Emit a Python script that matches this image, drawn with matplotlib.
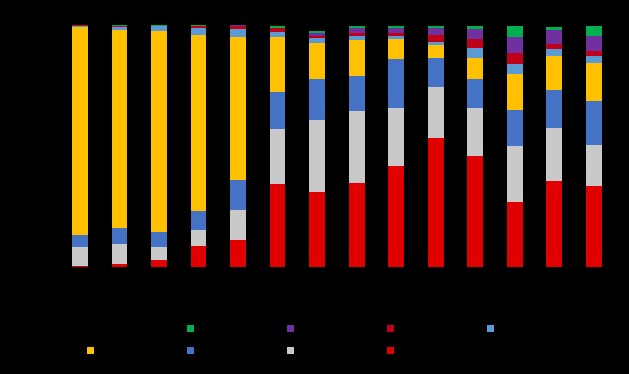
import matplotlib
matplotlib.use("Agg")
import matplotlib.pyplot as plt
from matplotlib.patches import Patch
import numpy as np

categories = ["1", "2", "3", "4", "5", "6", "7", "8", "9", "10", "11", "12", "13", "14"]

series_names = ["Series 1", "Series 2", "Series 3", "Series 4", "Series 5",
                "Series 6", "Series 7", "Series 8"]
series_colors = ["#E00000", "#C9C9C9", "#4472C4", "#FFC000", "#5B9BD5",
                 "#C00018", "#7030A0", "#00B050"]

s_red       = [0.4, 1.2, 3.0, 8.7, 11.2, 34.3, 31.0, 34.7, 41.7, 53.3, 45.9, 26.9, 35.5, 33.5]
s_gray      = [7.9, 8.3, 5.2, 6.6, 12.4, 22.7, 29.8, 29.8, 24.0, 21.1, 19.8, 23.1, 21.9, 16.9]
s_blue      = [5.0, 6.6, 6.2, 7.9, 12.4, 15.3, 16.9, 14.5, 20.2, 12.0, 12.0, 14.9, 15.7, 18.2]
s_yellow    = [85.9, 81.9, 83.1, 72.7, 59.1, 22.7, 14.9, 14.9, 8.3, 5.4, 8.7, 14.9, 14.0, 15.7]
s_lightblue = [0.4, 1.1, 2.1, 2.9, 3.3, 2.1, 2.1, 1.7, 1.2, 1.2, 4.1, 4.1, 2.9, 2.9]
s_darkred   = [0.3, 0.4, 0.0, 0.8, 1.2, 1.7, 0.8, 1.2, 1.2, 2.9, 3.7, 4.5, 2.1, 2.1]
s_purple    = [0.3, 0.0, 0.0, 0.0, 0.4, 0.0, 1.2, 2.1, 2.1, 2.9, 4.1, 6.6, 5.8, 6.2]
s_green     = [0.0, 0.4, 0.4, 0.4, 0.0, 0.8, 0.8, 0.8, 0.8, 0.8, 1.2, 4.5, 1.2, 4.1]

series = [s_red, s_gray, s_blue, s_yellow, s_lightblue, s_darkred, s_purple, s_green]

fig = plt.figure(figsize=(6.29, 3.74), dpi=100, facecolor="black")
ax = fig.add_axes([60.3 / 629, 107 / 374, (613.4 - 60.3) / 629, 242 / 374])
ax.set_facecolor("black")

x = np.arange(len(categories))
bottom = np.zeros(len(categories))
bars = []
for vals, name, col in zip(series, series_names, series_colors):
    b = ax.bar(x, vals, width=0.4, bottom=bottom, color=col, label=name, linewidth=0)
    bars.append(b)
    bottom += np.array(vals)

ax.set_xlim(-0.5, len(categories) - 0.5)
ax.set_ylim(0, 100)
ax.set_xticks(x)
ax.set_xticklabels(categories, color="black")
ax.tick_params(axis="both", colors="black", length=0)
ax.set_yticks([])
for sp in ax.spines.values():
    sp.set_visible(False)

other = Patch(facecolor="black", edgecolor="none", label="Series 9")
# arrange so rows read: [other, green, purple, darkred, lightblue] / [yellow, blue, gray, red]
handles = [other, bars[3], bars[7], bars[2], bars[6], bars[1], bars[5], bars[0], bars[4]]
labels = ["Series 9", series_names[3], series_names[7], series_names[2], series_names[6],
          series_names[1], series_names[5], series_names[0], series_names[4]]
leg = fig.legend(handles, labels, ncol=5, loc="upper left",
                 bbox_to_anchor=(87 / 629, 1 - 323 / 374), frameon=False,
                 fontsize=9, labelcolor="black", handlelength=0.55, handleheight=0.55,
                 handletextpad=0.4, columnspacing=3.0, borderaxespad=0, borderpad=0,
                 labelspacing=0.7)

fig.savefig("out.png", dpi=100, facecolor="black")
